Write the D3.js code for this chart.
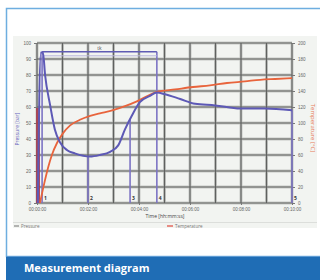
<!DOCTYPE html>
<html>
<head>
<meta charset="utf-8">
<script src="https://cdn.jsdelivr.net/npm/d3@7"></script>
<style>
  body { margin: 0; background: #fff; }
  svg { display: block; font-family: "Open Sans", sans-serif; }
</style>
</head>
<body>
<svg id="chart" width="320" height="280"></svg>
<script>
// time in seconds, pressure in bar, temperature in °C
var pressTime = [2, 9, 14, 19, 31, 42, 54, 71, 89, 125, 148, 172, 191, 207, 224, 242, 266, 282, 301, 337, 372, 419, 478, 536, 600];
var pressVals = [0, 94, 94, 80, 61, 46, 38, 33, 31, 29, 30, 32, 36, 46, 55, 63, 67, 69, 68, 65, 62, 61, 59, 59, 58];
var tempTime = [7, 16, 26, 35, 47, 61, 78, 101, 125, 148, 179, 207, 235, 261, 282, 325, 367, 407, 447, 489, 525, 560, 600];
var tempVals = [0, 22, 44, 60, 75, 87, 97, 104, 109, 112, 116, 121, 127, 134, 139, 142, 145, 147, 150, 152, 154, 155, 156];

var xTicks = [0, 120, 240, 360, 480, 600];
var xTickLabels = ["00:00:00", "00:02:00", "00:04:00", "00:06:00", "00:08:00", "00:10:00"];
var yLeftTicks = [0, 10, 20, 30, 40, 50, 60, 70, 80, 90, 100];
var yRightTicks = [0, 20, 40, 60, 80, 100, 120, 140, 160, 180, 200];

// cursor markers
var redMarks = [0, 5];
var blueMarks = [12, 120, 219, 282, 600];
var markLabels = ["1", "2", "3", "4", "5"];
var bracket = {from: 12, to: 282, level: 94.5, label: "tk"};

var svg = d3.select("#chart");

// frame + caption banner
svg.append("rect").attr("x", 6.5).attr("y", 8.5).attr("width", 330).attr("height", 248)
  .attr("fill", "#fff").attr("stroke", "#6eaee0").attr("stroke-width", 1.5);
svg.append("rect").attr("x", 6).attr("y", 256).attr("width", 320).attr("height", 24).attr("fill", "#1f6db5");
svg.append("line").attr("x1", 6).attr("x2", 320).attr("y1", 256.5).attr("y2", 256.5).attr("stroke", "#5d9bd4");
svg.append("text").attr("x", 24).attr("y", 272).attr("fill", "#fff")
  .attr("font-size", 11).attr("font-weight", "bold").text("Measurement diagram");

// screenshot background
svg.append("rect").attr("x", 13).attr("y", 36).attr("width", 304).attr("height", 192).attr("fill", "#f2f4f1");
svg.append("line").attr("x1", 13).attr("x2", 317).attr("y1", 222.5).attr("y2", 222.5).attr("stroke", "#dcdedb");

var margin = {left: 37, right: 292, top: 43, bottom: 203};
var x = d3.scaleLinear().domain([0, 600]).range([margin.left, margin.right]);
var yL = d3.scaleLinear().domain([0, 100]).range([margin.bottom, margin.top]);
var yR = d3.scaleLinear().domain([0, 200]).range([margin.bottom, margin.top]);

var g = svg.append("g");

// grid
var xGrid = d3.range(0, 601, 60);
g.selectAll(".vg").data(xGrid).enter().append("line")
  .attr("x1", d => x(d)).attr("x2", d => x(d)).attr("y1", margin.top).attr("y2", margin.bottom)
  .attr("stroke", "#c6c8c5").attr("stroke-width", 3);
g.selectAll(".hg").data(yLeftTicks).enter().append("line")
  .attr("x1", margin.left).attr("x2", margin.right).attr("y1", d => yL(d)).attr("y2", d => yL(d))
  .attr("stroke", "#c6c8c5").attr("stroke-width", 3);
g.selectAll(".vg2").data(xGrid).enter().append("line")
  .attr("x1", d => x(d)).attr("x2", d => x(d)).attr("y1", margin.top).attr("y2", margin.bottom)
  .attr("stroke", "#5f615f").attr("stroke-width", 1.2);
g.selectAll(".hg2").data(yLeftTicks).enter().append("line")
  .attr("x1", margin.left).attr("x2", margin.right).attr("y1", d => yL(d)).attr("y2", d => yL(d))
  .attr("stroke", "#5f615f").attr("stroke-width", 1.2);

// axes
var axL = g.append("g").attr("transform", "translate(" + margin.left + ",0)")
  .call(d3.axisLeft(yL).tickValues(yLeftTicks).tickSize(3));
var axR = g.append("g").attr("transform", "translate(" + margin.right + ",0)")
  .call(d3.axisRight(yR).tickValues(yRightTicks).tickSize(3));
var axB = g.append("g").attr("transform", "translate(0," + margin.bottom + ")")
  .call(d3.axisBottom(x).tickValues(xTicks).tickSize(2).tickFormat((d, i) => xTickLabels[i]));
[axL, axR, axB].forEach(function (a) {
  a.select(".domain").remove();
  a.selectAll("line").attr("stroke", "#777");
  a.selectAll("text").attr("fill", "#666").attr("font-size", 4.5);
});

// markers
var pressAt = d3.scaleLinear().domain(pressTime).range(pressVals);
g.selectAll(".rm").data(redMarks).enter().append("line")
  .attr("x1", d => x(d)).attr("x2", d => x(d)).attr("y1", 108).attr("y2", margin.bottom)
  .attr("stroke", "#b0384a").attr("stroke-width", 1.6);
g.selectAll(".bm").data(blueMarks).enter().append("line")
  .attr("x1", d => x(d)).attr("x2", d => x(d))
  .attr("y1", (d, i) => (i === 0 || i === 3) ? yL(bracket.level) : yL(pressAt(d)))
  .attr("y2", margin.bottom)
  .attr("stroke", "#7c74c4").attr("stroke-width", 1.6);
g.append("line").attr("x1", x(bracket.from)).attr("x2", x(bracket.to))
  .attr("y1", yL(bracket.level)).attr("y2", yL(bracket.level))
  .attr("stroke", "#5f5bb4").attr("stroke-width", 1.6);
g.append("line").attr("x1", x(bracket.from)).attr("x2", x(bracket.to))
  .attr("y1", yL(bracket.level) + 4).attr("y2", yL(bracket.level) + 4)
  .attr("stroke", "#b8b6dc").attr("stroke-width", 1);
g.append("text").attr("x", x((bracket.from + bracket.to) / 2)).attr("y", yL(bracket.level) - 2)
  .attr("text-anchor", "middle").attr("font-size", 5).attr("fill", "#555").text(bracket.label);
g.selectAll(".ml").data(blueMarks).enter().append("text")
  .attr("x", d => x(d) + 2).attr("y", margin.bottom - 3)
  .attr("font-size", 5).attr("font-weight", "bold").attr("fill", "#333").text((d, i) => markLabels[i]);

// series
var pressData = pressTime.map((t, i) => [t, pressVals[i]]);
var tempData = tempTime.map((t, i) => [t, tempVals[i]]);
g.append("path").datum(tempData).attr("fill", "none").attr("stroke", "#e8643c").attr("stroke-width", 1.8)
  .attr("d", d3.line().curve(d3.curveMonotoneX).x(d => x(d[0])).y(d => yR(d[1])));
g.append("path").datum(pressData).attr("fill", "none").attr("stroke", "#5d59b6").attr("stroke-width", 2)
  .attr("d", d3.line().curve(d3.curveMonotoneX).x(d => x(d[0])).y(d => yL(d[1])));

// axis titles
svg.append("text").attr("transform", "translate(19,129) rotate(-90)").attr("text-anchor", "middle")
  .attr("font-size", 5).attr("fill", "#6a66c0").text("Pressure [bar]");
svg.append("text").attr("transform", "translate(311,128) rotate(90)").attr("text-anchor", "middle")
  .attr("font-size", 6).attr("fill", "#e87a5a").text("Temperature [°C]");
svg.append("text").attr("x", 165).attr("y", 218).attr("text-anchor", "middle")
  .attr("font-size", 5).attr("fill", "#444").text("Time [hh:mm:ss]");

// legend
svg.append("line").attr("x1", 14).attr("x2", 19).attr("y1", 226).attr("y2", 226).attr("stroke", "#888").attr("stroke-width", 1.2);
svg.append("text").attr("x", 21).attr("y", 227.5).attr("font-size", 4.5).attr("fill", "#777").text("Pressure");
svg.append("line").attr("x1", 167).attr("x2", 173).attr("y1", 226).attr("y2", 226).attr("stroke", "#e0463c").attr("stroke-width", 1.2);
svg.append("text").attr("x", 175).attr("y", 227.5).attr("font-size", 4.5).attr("fill", "#777").text("Temperature");
</script>
</body>
</html>
